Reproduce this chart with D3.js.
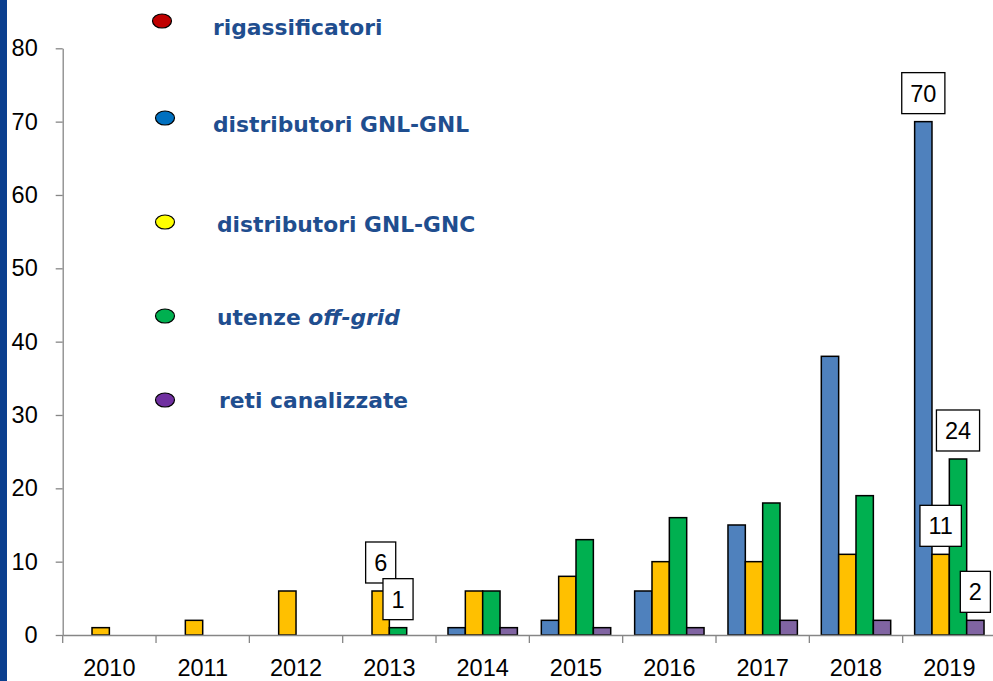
<!DOCTYPE html>
<html lang="it">
<head>
<meta charset="utf-8">
<title>Impianti GNL</title>
<script src="https://cdn.jsdelivr.net/npm/d3@7"></script>
<style>
  body { margin: 0; background: #fff; }
  svg { display: block; }
</style>
</head>
<body>
<div id="chart"></div>
<script>
// dati
var years = ["2010", "2011", "2012", "2013", "2014", "2015", "2016", "2017", "2018", "2019"];
var rigassificatori = [0, 0, 0, 0, 0, 0, 0, 0, 0, 0];
var gnlGnl = [0, 0, 0, 0, 1, 2, 6, 15, 38, 70];
var gnlGnc = [1, 2, 6, 6, 6, 8, 10, 10, 11, 11];
var offGrid = [0, 0, 0, 1, 6, 13, 16, 18, 19, 24];
var retiCanalizzate = [0, 0, 0, 0, 1, 1, 1, 2, 2, 2];
var yTicks = [0, 10, 20, 30, 40, 50, 60, 70, 80];

// serie disegnate come barre (rigassificatori solo in legenda)
var barSeries = [
  { key: "gnlGnl", values: gnlGnl, fill: "#4F81BD" },
  { key: "gnlGnc", values: gnlGnc, fill: "#FFC000" },
  { key: "offGrid", values: offGrid, fill: "#00B050" },
  { key: "reti", values: retiCanalizzate, fill: "#8064A2" }
];

// etichette con riquadro: [anno, serie]
var boxedLabels = [
  ["2013", "gnlGnc"], ["2013", "offGrid"],
  ["2019", "gnlGnl"], ["2019", "gnlGnc"], ["2019", "offGrid"], ["2019", "reti"]
];

var legend = [
  { text: "rigassificatori", color: "#C00000", cx: 162, cy: 21, tx: 213, ty: 35 },
  { text: "distributori GNL-GNL", color: "#0070C0", cx: 165, cy: 118, tx: 213, ty: 132 },
  { text: "distributori GNL-GNC", color: "#FFFF00", cx: 165, cy: 222, tx: 217, ty: 232 },
  { text: "utenze ", italic: "off-grid", color: "#00B050", cx: 165, cy: 316, tx: 217, ty: 325 },
  { text: "reti canalizzate", color: "#7030A0", cx: 165, cy: 400, tx: 219, ty: 408 }
];

var W = 993, H = 681;
var svg = d3.select("#chart").append("svg")
    .attr("width", W)
    .attr("height", H);

// fascia blu a sinistra
svg.append("rect")
    .attr("x", 0).attr("y", 0)
    .attr("width", 7).attr("height", H)
    .attr("fill", "#0B3F8F");

var x = d3.scaleBand()
    .domain(years)
    .range([62.7, 996]);

var xs = d3.scaleBand()
    .domain(barSeries.map(d => d.key))
    .range([0, x.bandwidth()])
    .paddingOuter(0.69);

var y = d3.scaleLinear()
    .domain([0, 80])
    .range([635, 48.3]);

// barre
barSeries.forEach(function(s) {
  svg.append("g").selectAll("rect")
      .data(years.map((yr, i) => ({ year: yr, v: s.values[i] })).filter(d => d.v > 0))
      .enter()
      .append("rect")
      .attr("x", d => x(d.year) + xs(s.key))
      .attr("y", d => y(d.v))
      .attr("width", xs.bandwidth())
      .attr("height", d => y(0) - y(d.v))
      .attr("fill", s.fill)
      .attr("stroke", "#000")
      .attr("stroke-width", 1.5);
});

// asse y
var yAxis = svg.append("g")
    .attr("transform", "translate(62.7,0)")
    .call(d3.axisLeft(y).tickValues(yTicks).tickSize(7).tickPadding(18).tickSizeOuter(0));

// asse x
var xAxis = svg.append("g")
    .attr("transform", "translate(0,635)")
    .call(d3.axisBottom(x).tickSize(0).tickPadding(24));

xAxis.selectAll(".tick")
    .append("line")
    .attr("x1", -x.bandwidth() / 2).attr("x2", -x.bandwidth() / 2)
    .attr("y1", 0).attr("y2", 8);

[yAxis, xAxis].forEach(function(a) {
  a.select(".domain").attr("stroke", "#868686").attr("stroke-width", 1.3);
  a.selectAll(".tick line").attr("stroke", "#868686").attr("stroke-width", 1.3);
  a.selectAll("text")
      .attr("fill", "#000")
      .style("font-family", "'Liberation Sans', Arial, sans-serif")
      .style("font-size", "23.5px");
});

// etichette dati con riquadro
var lbl = svg.append("g");
boxedLabels.forEach(function(l) {
  var s = barSeries.find(d => d.key === l[1]);
  var v = s.values[years.indexOf(l[0])];
  var cx = x(l[0]) + xs(l[1]) + xs.bandwidth() / 2;
  var bottom = y(v) - 8;
  var g = lbl.append("g");
  var t = g.append("text")
      .attr("x", cx)
      .attr("y", bottom - 12)
      .attr("text-anchor", "middle")
      .style("font-family", "'Liberation Sans', Arial, sans-serif")
      .style("font-size", "23.5px")
      .attr("fill", "#000")
      .text(v);
  var w = t.node().getComputedTextLength() + 17;
  g.insert("rect", "text")
      .attr("x", cx - w / 2)
      .attr("y", bottom - 41)
      .attr("width", w)
      .attr("height", 41)
      .attr("fill", "#fff")
      .attr("stroke", "#000")
      .attr("stroke-width", 1.3);
});

// legenda
var leg = svg.append("g");
legend.forEach(function(d) {
  leg.append("ellipse")
      .attr("cx", d.cx).attr("cy", d.cy)
      .attr("rx", 9.5).attr("ry", 7)
      .attr("fill", d.color)
      .attr("stroke", "#000")
      .attr("stroke-width", 1.2);
  var t = leg.append("text")
      .attr("x", d.tx).attr("y", d.ty)
      .attr("fill", "#1F4E8F")
      .style("font-family", "'DejaVu Sans', Verdana, sans-serif")
      .style("font-weight", "bold")
      .style("font-size", "21.8px")
      .text(d.text);
  if (d.italic) {
    t.append("tspan").style("font-style", "italic").text(d.italic);
  }
});
</script>
</body>
</html>
